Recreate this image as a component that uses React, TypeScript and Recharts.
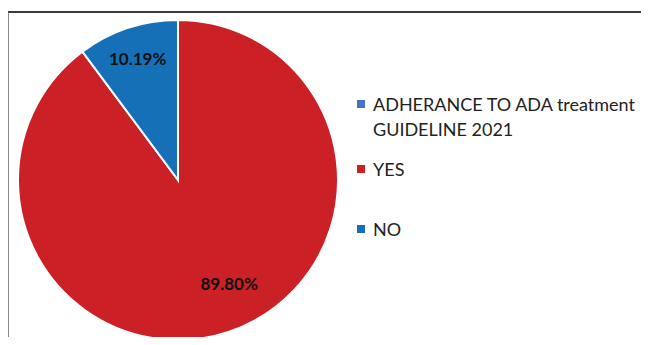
import React from "react";
import { PieChart, Pie, Cell, Legend } from "recharts";

const categories = ["YES", "NO"];
const values = [89.8, 10.19];
const valueLabels = ["89.80%", "10.19%"];
const seriesTitle = ["ADHERANCE TO ADA treatment", "GUIDELINE 2021"];

const COLORS = ["#CC2027", "#1570B8"];
const TITLE_COLOR = "#4472C4";
const FONT = "Lato, 'Open Sans', sans-serif";

const data = categories.map((c, i) => ({ name: c, value: values[i], label: valueLabels[i] }));

const RAD = Math.PI / 180;

const renderLabel = (props: any) => {
  const { cx, cy, midAngle, outerRadius, index } = props;
  const frac = index === 0 ? 0.72 : 0.8;
  const ang = index === 0 ? midAngle + 8 : midAngle;
  const x = cx + outerRadius * frac * Math.cos(-ang * RAD);
  const y = cy + outerRadius * frac * Math.sin(-ang * RAD);
  return (
    <text
      x={x}
      y={y}
      textAnchor="middle"
      dominantBaseline="central"
      fill="#111"
      fontFamily={FONT}
      fontWeight={700}
      fontSize={17}
    >
      {data[index].label}
    </text>
  );
};

const LegendContent = () => {
  const rows: { text: string[]; color: string }[] = [
    { text: seriesTitle, color: TITLE_COLOR },
    ...categories.map((c, i) => ({ text: [c], color: COLORS[i] })),
  ];
  const tops = [0, 65, 125];
  return (
    <div style={{ position: "relative", width: 290, height: 150, fontFamily: FONT, fontSize: 18, color: "#222" }}>
      {rows.map((r, i) => (
        <div key={i} style={{ position: "absolute", left: 0, top: tops[i] }}>
          <span
            style={{
              position: "absolute",
              left: 0,
              top: 8,
              width: 8,
              height: 8,
              background: r.color,
            }}
          />
          <div style={{ position: "absolute", left: 16, top: 0, whiteSpace: "nowrap", lineHeight: "25px" }}>
            {r.text.map((t, j) => (
              <div key={j}>{t}</div>
            ))}
          </div>
        </div>
      ))}
    </div>
  );
};

export default function App() {
  return (
    <div style={{ position: "relative", margin: -8, width: 649, height: 345, overflow: "hidden", background: "#fff" }}>
      <div
        style={{
          position: "absolute",
          left: 7,
          top: 11,
          width: 700,
          height: 400,
          borderTop: "2px solid #3a3a3a",
          borderLeft: "2px solid #8a8a8a",
          boxSizing: "border-box",
        }}
      />
      <div style={{ position: "absolute", left: 0, top: 0 }}>
        <PieChart width={649} height={345}>
          <Pie
            data={data}
            dataKey="value"
            nameKey="name"
            cx={173}
            cy={175}
            outerRadius={160}
            startAngle={90}
            endAngle={-270}
            stroke="#fff"
            strokeWidth={2}
            label={renderLabel}
            labelLine={false}
            isAnimationActive={false}
          >
            {data.map((d, i) => (
              <Cell key={d.name} fill={COLORS[i]} />
            ))}
          </Pie>
          <Legend
            layout="vertical"
            align="right"
            verticalAlign="top"
            content={<LegendContent />}
            wrapperStyle={{ left: 357, top: 92, width: 290 }}
          />
        </PieChart>
      </div>
    </div>
  );
}
